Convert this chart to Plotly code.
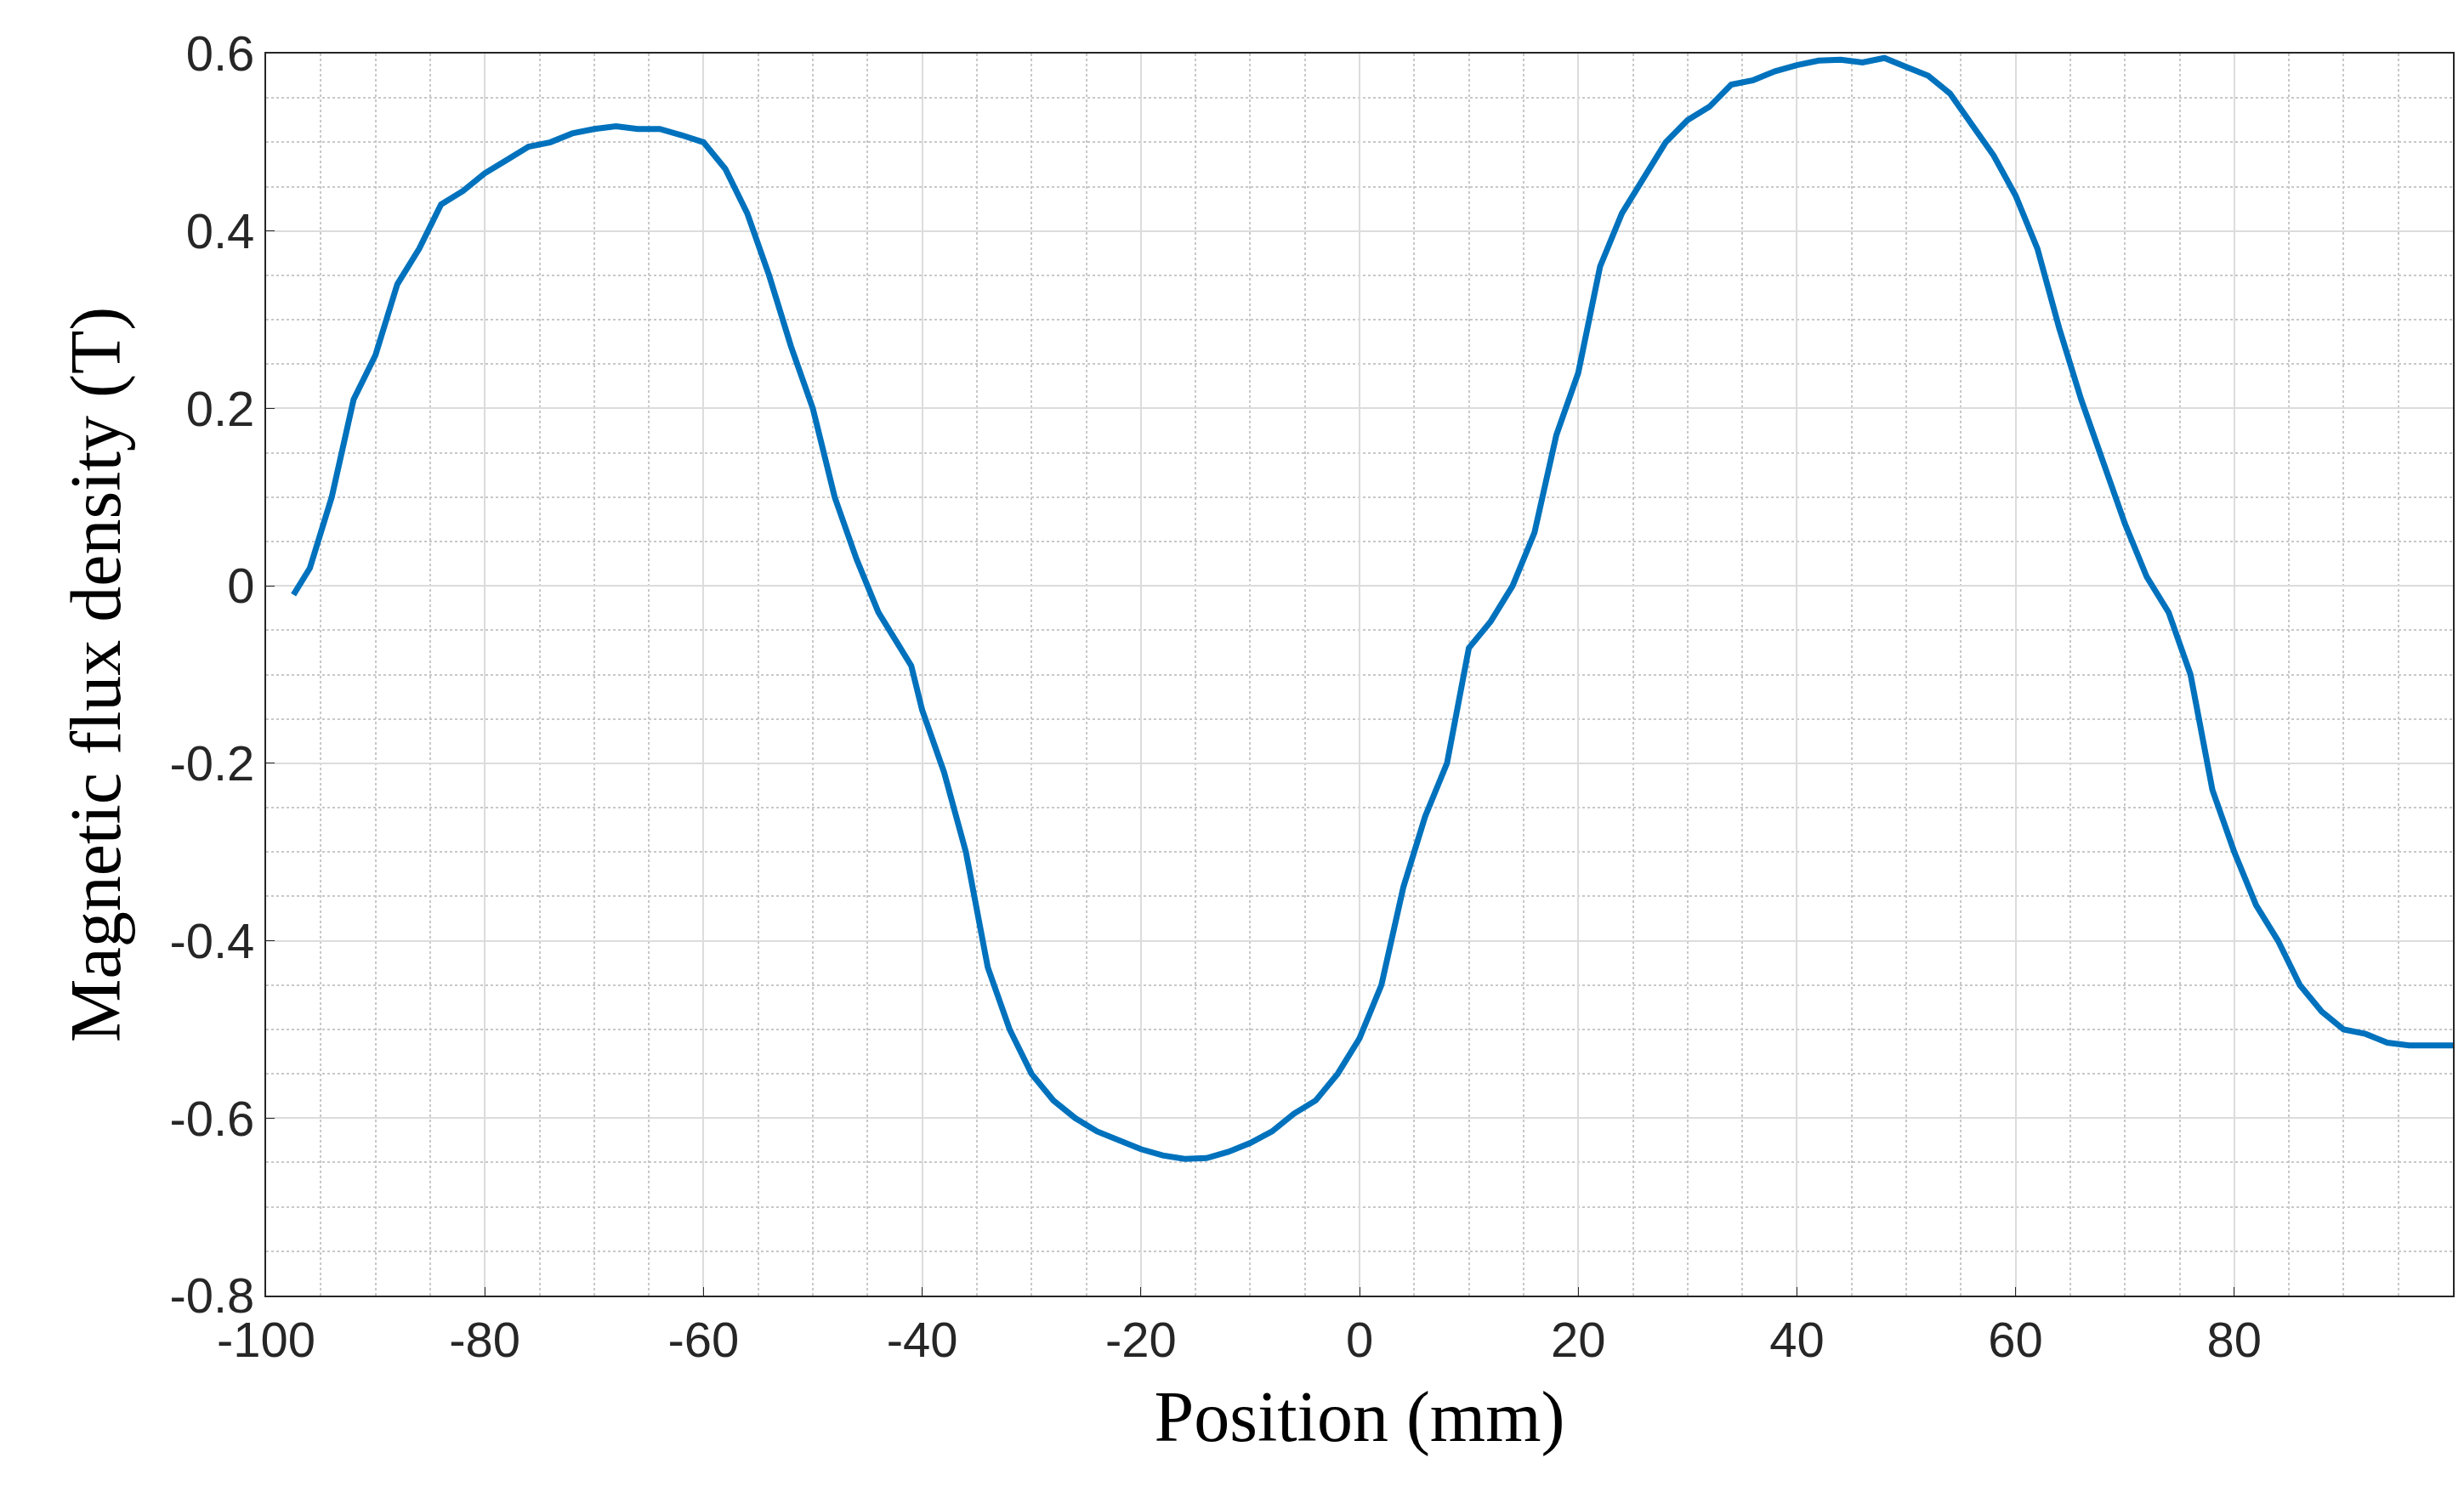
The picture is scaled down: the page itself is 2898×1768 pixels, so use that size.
import plotly.graph_objects as go

position_mm = [-97.5,-96,-94,-92,-90,-88,-86,-84,-82,-80,-78,-76,-74,-72,-70,-68,-66,-64,-62,-60,-58,-56,-54,-52,-50,-48,-46,-44,-42,-41,-40,-38,-36,-34,-32,-30,-28,-26,-24,-22,-20,-18,-16,-14,-12,-10,-8,-6,-4,-2,0,2,4,6,8,10,12,14,16,18,20,22,24,26,28,30,32,34,36,38,40,42,44,46,48,50,52,54,56,58,60,62,64,66,68,70,72,74,76,78,80,82,84,86,88,90,92,94,96,98,100]
flux_T = [-0.01,0.02,0.1,0.21,0.26,0.34,0.38,0.43,0.445,0.465,0.48,0.495,0.50,0.51,0.515,0.518,0.515,0.515,0.508,0.50,0.47,0.42,0.35,0.27,0.2,0.1,0.03,-0.03,-0.07,-0.09,-0.14,-0.21,-0.3,-0.43,-0.5,-0.55,-0.58,-0.6,-0.615,-0.625,-0.635,-0.642,-0.646,-0.645,-0.638,-0.628,-0.615,-0.595,-0.58,-0.55,-0.51,-0.45,-0.34,-0.26,-0.2,-0.07,-0.04,0.0,0.06,0.17,0.24,0.36,0.42,0.46,0.5,0.525,0.54,0.565,0.57,0.58,0.587,0.592,0.593,0.59,0.595,0.585,0.575,0.555,0.52,0.485,0.44,0.38,0.29,0.21,0.14,0.07,0.01,-0.03,-0.1,-0.23,-0.3,-0.36,-0.4,-0.45,-0.48,-0.5,-0.505,-0.515,-0.518,-0.518,-0.518]
x_ticks = [-100,-80,-60,-40,-20,0,20,40,60,80]
y_ticks = [-0.8,-0.6,-0.4,-0.2,0,0.2,0.4,0.6]

fig = go.Figure(go.Scatter(x=position_mm, y=flux_T, mode="lines",
                           line=dict(color="#0072BD", width=7)))
axis_common = dict(showline=True, mirror=True, linecolor="#262626", linewidth=2,
                   gridcolor="#dcdcdc", gridwidth=2, zeroline=False,
                   ticks="inside", ticklen=10, tickcolor="#262626",
                   tickfont=dict(family="Liberation Sans, Arial", size=58, color="#262626"),
                   title_font=dict(family="Liberation Serif, Times New Roman", size=84, color="black"),
                   minor=dict(showgrid=True, gridcolor="#c8c8c8", griddash="dot", gridwidth=2))
fig.update_xaxes(range=[-100, 100], tickvals=x_ticks, ticktext=[str(v) for v in x_ticks],
                 title_text="Position (mm)", title_standoff=30, **axis_common)
fig.update_xaxes(minor_dtick=5)
fig.update_yaxes(range=[-0.8, 0.6], tickvals=y_ticks, ticktext=[f"{v:g}" for v in y_ticks],
                 title_text="Magnetic flux density (T)", title_standoff=30, **axis_common)
fig.update_yaxes(minor_dtick=0.05)
fig.update_layout(width=2898, height=1768, plot_bgcolor="white", paper_bgcolor="white",
                  showlegend=False, margin=dict(l=305, r=21, t=55, b=252))
fig.write_html("out.html")
